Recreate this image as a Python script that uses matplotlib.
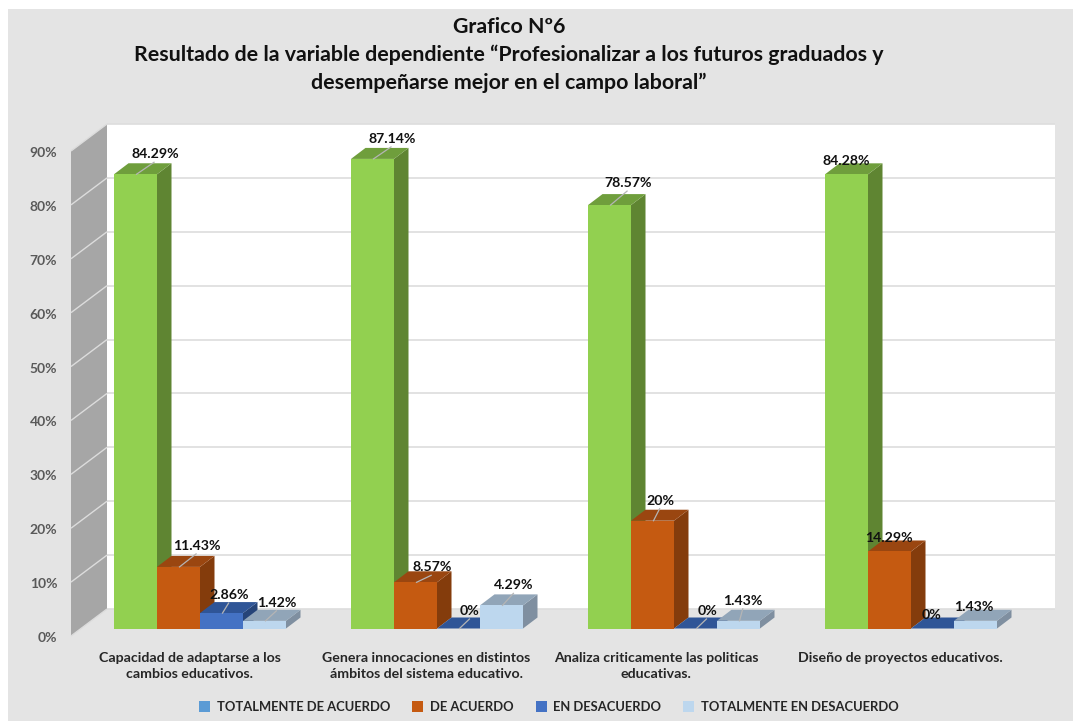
import matplotlib
matplotlib.use("Agg")
import matplotlib.pyplot as plt
from matplotlib.patches import Polygon, Rectangle, Patch
from matplotlib.transforms import ScaledTranslation

plt.rcParams['font.family'] = ['Lato', 'DejaVu Sans']

categories = ["Capacidad de adaptarse a los\ncambios educativos.",
              "Genera innocaciones en distintos\námbitos del sistema educativo.",
              "Analiza criticamente las politicas\neducativas.",
              "Diseño de proyectos educativos.\n "]
series_names = ["TOTALMENTE DE ACUERDO", "DE ACUERDO", "EN DESACUERDO", "TOTALMENTE EN DESACUERDO"]
totalmente_acuerdo = [84.29, 87.14, 78.57, 84.28]
de_acuerdo = [11.43, 8.57, 20, 14.29]
en_desacuerdo = [2.86, 0, 0, 0]
totalmente_desacuerdo = [1.42, 4.29, 1.43, 1.43]
value_labels = [["84.29%", "11.43%", "2.86%", "1.42%"],
                ["87.14%", "8.57%", "0%", "4.29%"],
                ["78.57%", "20%", "0%", "1.43%"],
                ["84.28%", "14.29%", "0%", "1.43%"]]
y_ticks = list(range(0, 100, 10))

# styling
front_cols = ["#92D050", "#C55A11", "#4472C4", "#BDD7EE"]
top_cols = ["#6F9E3C", "#9A4610", "#2F5597", "#91A5B8"]
side_cols = ["#5F8532", "#843C0C", "#264478", "#7F8FA0"]
legend_cols = ["#5B9BD5", "#C55A11", "#4472C4", "#BDD7EE"]
# label offsets from front-top-centre of each bar (px right, px up)
label_off = [[(19.5, 20), (18.5, 21), (7.5, 18), (12.5, 18)],
             [(19.5, 20), (16.5, 15), (11.5, 17.5), (12.5, 20)],
             [(18.5, 22), (7.5, 20), (11.5, 17.5), (4.5, 20)],
             [(-0.5, 13), (-0.5, 13.5), (-0.5, 13.5), (-1.5, 14)]]
leader = [True, True, True, False]
cat_shift = [-10, -10.5, -18, -11]

W, H = 1073, 721
PX_X = 237.0           # px per category
PX_Y = 485 / 90.0      # px per percent
BASE = 628.5           # bar baseline px
C0 = 200.0             # first category centre px
BW = 43 / PX_X
DX, DY = 14.5 / PX_X, 11 / PX_Y

fig = plt.figure(figsize=(W / 100, H / 100), dpi=100, facecolor="white")
fig.patches.append(Rectangle((8 / W, 0), 1, 1 - 9 / H, transform=fig.transFigure, fc="#E4E4E4", ec="none", zorder=-5))

L, R, T = 71, 1055, BASE - 90 * PX_Y
ax = fig.add_axes([L / W, 1 - BASE / H, (R - L) / W, (BASE - T) / H])
ax.patch.set_alpha(0)
for s in ax.spines.values():
    s.set_visible(False)
ax.set_xlim((L - C0) / PX_X, (R - C0) / PX_X)
ax.set_ylim(0, 90)

# walls
xF, xB = (71 - C0) / PX_X, (107 - C0) / PX_X
xE = (1055 - C0) / PX_X
yF, yB = (BASE - 636) / PX_Y, (BASE - 609) / PX_Y
ax.add_patch(Polygon([(xF, yF), (xB, yB), (xB, yB + 90), (xF, yF + 90)], fc="#A6A6A6", ec="none", clip_on=False, zorder=1))
ax.add_patch(Rectangle((xB, yB), xE - xB, 90, fc="white", ec="none", clip_on=False, zorder=1))
for v in y_ticks:
    ax.plot([xB, xE], [yB + v, yB + v], color="#DDDDDD", lw=1.2, clip_on=False, zorder=2, solid_capstyle="butt")
    ax.plot([xF, xB], [yF + v, yB + v], color="#DCDCDC", lw=1.0, clip_on=False, zorder=2, solid_capstyle="butt")

# bars
series = [totalmente_acuerdo, de_acuerdo, en_desacuerdo, totalmente_desacuerdo]
z = 3
for g in range(len(categories)):
    for s, vals in enumerate(series):
        v = vals[g]
        x0 = g - 2 * BW + s * BW
        x1 = x0 + BW
        ax.add_patch(Polygon([(x1, 0), (x1 + DX, DY), (x1 + DX, v + DY), (x1, v)], fc=side_cols[s], ec="none", clip_on=False, zorder=z))
        ax.add_patch(Polygon([(x0, v), (x1, v), (x1 + DX, v + DY), (x0 + DX, v + DY)], fc=top_cols[s], ec="none", clip_on=False, zorder=z))
        ax.bar(x0, v, width=BW, align="edge", color=front_cols[s], clip_on=False, zorder=z)
        z += 0.01

# data labels with leader lines
for g in range(len(categories)):
    for s, vals in enumerate(series):
        v = vals[g]
        cx = g - 2 * BW + (s + 0.5) * BW
        ox, oy = label_off[g][s]
        if leader[g]:
            lx, ly = cx + (ox * 0.95) / PX_X, v + (oy - 8) / PX_Y
            ax.plot([cx + 1 / PX_X, lx], [v, ly], color="#B5B5B5", lw=0.9, clip_on=False, zorder=5)
        ax.annotate(value_labels[g][s], (cx, v), xytext=(ox * 0.72, oy * 0.72), textcoords="offset points",
                    ha="center", va="center", fontsize=10.2, fontweight="bold", color="#111111",
                    annotation_clip=False, zorder=6)

# axes ticks
ax.set_yticks(y_ticks)
ax.set_yticklabels([f"{v}%" for v in y_ticks], fontsize=10, fontweight="bold", color="#595959")
ax.set_xticks(range(len(categories)))
ax.set_xticklabels(categories, fontsize=10.2, fontweight="bold", color="#262626", linespacing=1.42)
ax.tick_params(axis="both", length=0)
ax.tick_params(axis="y", pad=10)
ax.tick_params(axis="x", pad=17)
for lab in ax.get_yticklabels():
    lab.set_transform(lab.get_transform() + ScaledTranslation(0, -8.5 / 100, fig.dpi_scale_trans))
for lab, sh in zip(ax.get_xticklabels(), cat_shift):
    lab.set_transform(lab.get_transform() + ScaledTranslation(sh / 100, 0, fig.dpi_scale_trans))

# title
fig.text(509 / W, 1 - 55 / H,
         "Grafico Nº6\nResultado de la variable dependiente “Profesionalizar a los futuros graduados y\ndesempeñarse mejor en el campo laboral”",
         ha="center", va="center", fontsize=15.4, fontweight="bold", color="#111111", linespacing=1.45)

# legend
handles = [Patch(fc=c, ec="none") for c in legend_cols]
fig.legend(handles, series_names, ncol=4, loc="center", bbox_to_anchor=(549 / W, 1 - 707 / H), frameon=False,
           prop={"size": 9.35, "weight": "bold"}, labelcolor="#262626", handlelength=0.85, handleheight=0.85,
           handletextpad=0.5, columnspacing=1.7, borderpad=0)

fig.savefig("out.png", dpi=100, facecolor=fig.get_facecolor())
